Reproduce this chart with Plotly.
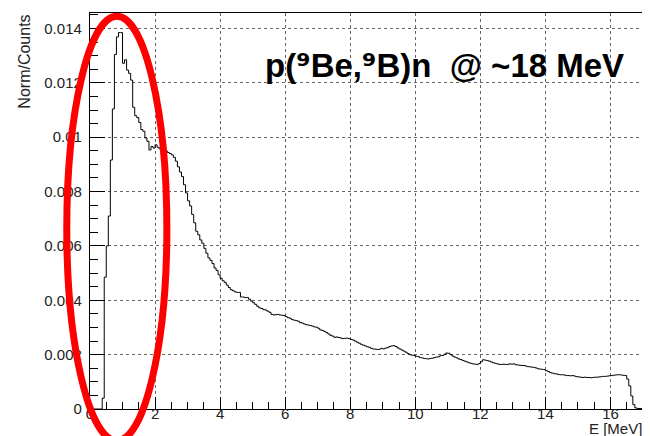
import numpy as np
import plotly.graph_objects as go

# Histogram: 0-17 MeV, bin width 1/16 MeV, values per 1 MeV segment
bin_width = 0.0625
e_min, e_max = 0.0, 17.0

counts_00_01 = [0, 0, 0, 0, 0, 0, 0.0004, 0.00485, 0.0060, 0.0071, 0.00916, 0.01104, 0.01304, 0.01369, 0.01385, 0.01385]
counts_01_02 = [0.01272, 0.01285, 0.01247, 0.01235, 0.0121, 0.0111, 0.01079, 0.01072, 0.01054, 0.01028, 0.01022, 0.00997, 0.00985, 0.00953, 0.00966, 0.0096]
counts_02_03 = [0.00972, 0.00963, 0.00957, 0.00953, 0.00953, 0.0095, 0.00944, 0.0094, 0.00935, 0.00926, 0.00912, 0.00891, 0.00872, 0.00855, 0.00825, 0.00795]
counts_03_04 = [0.00766, 0.00747, 0.00716, 0.00685, 0.00654, 0.00641, 0.00622, 0.0061, 0.00591, 0.00573, 0.00556, 0.00547, 0.00535, 0.00519, 0.0051, 0.00494]
counts_04_05 = [0.00481, 0.00472, 0.00466, 0.00456, 0.00447, 0.00439, 0.00435, 0.00431, 0.00429, 0.00429, 0.00412, 0.00412, 0.0041, 0.0041, 0.00404, 0.00397]
counts_05_06 = [0.00391, 0.00385, 0.00378, 0.00372, 0.0037, 0.00366, 0.00364, 0.0036, 0.00356, 0.00348, 0.00346, 0.00347, 0.00348, 0.00346, 0.00345, 0.00344]
counts_06_07 = [0.0034, 0.00336, 0.00334, 0.00329, 0.00327, 0.00325, 0.00323, 0.00318, 0.00316, 0.00313, 0.0031, 0.00309, 0.00307, 0.00305, 0.00302, 0.00301]
counts_07_08 = [0.00297, 0.00291, 0.00289, 0.00285, 0.00281, 0.00276, 0.00271, 0.00268, 0.00264, 0.00265, 0.00263, 0.00261, 0.00259, 0.0026, 0.00261, 0.00259]
counts_08_09 = [0.00256, 0.00254, 0.0025, 0.00246, 0.00242, 0.00238, 0.00235, 0.00232, 0.00229, 0.00227, 0.00223, 0.00221, 0.0022, 0.00219, 0.0022, 0.00223]
counts_09_10 = [0.00221, 0.00224, 0.00226, 0.0023, 0.00232, 0.00233, 0.0023, 0.00225, 0.00221, 0.00217, 0.00213, 0.00209, 0.00204, 0.002, 0.00198, 0.00197]
counts_10_11 = [0.00194, 0.00193, 0.00189, 0.00188, 0.00186, 0.00185, 0.00184, 0.00186, 0.00187, 0.00189, 0.00191, 0.00192, 0.00196, 0.00197, 0.00201, 0.00206]
counts_11_12 = [0.00205, 0.002, 0.00195, 0.00191, 0.00188, 0.00184, 0.00182, 0.00178, 0.00176, 0.00173, 0.0017, 0.00168, 0.00166, 0.00165, 0.00164, 0.00167]
counts_12_13 = [0.00174, 0.00181, 0.0018, 0.00178, 0.00176, 0.00173, 0.0017, 0.00168, 0.00166, 0.00164, 0.00164, 0.00165, 0.00164, 0.00164, 0.00166, 0.00165]
counts_13_14 = [0.00166, 0.00163, 0.00162, 0.00161, 0.0016, 0.0016, 0.00158, 0.00156, 0.00155, 0.00154, 0.00153, 0.00151, 0.00148, 0.00147, 0.00146, 0.00145]
counts_14_15 = [0.00141, 0.00138, 0.00134, 0.00132, 0.0013, 0.00129, 0.00127, 0.00126, 0.00126, 0.00125, 0.00123, 0.00123, 0.00122, 0.00123, 0.00121, 0.00119]
counts_15_16 = [0.00118, 0.00117, 0.00116, 0.00117, 0.00116, 0.00116, 0.00115, 0.00116, 0.00117, 0.00117, 0.00118, 0.00119, 0.0012, 0.0012, 0.00121, 0.00122]
counts_16_17 = [0.00123, 0.00124, 0.00125, 0.00126, 0.00126, 0.00125, 0.00124, 0.00123, 0.0011, 0.00085, 0.00048, 0.00016, 0.00004, 0.00002, 0.00002, 0.00002]

x_tick_vals = [0, 2, 4, 6, 8, 10, 12, 14, 16]
x_tick_text = ["0", "2", "4", "6", "8", "10", "12", "14", "16"]
y_tick_vals = [0, 0.002, 0.004, 0.006, 0.008, 0.010, 0.012, 0.014]
y_tick_text = ["0", "0.002", "0.004", "0.006", "0.008", "0.01", "0.012", "0.014"]

SUP9 = "<span style=\"font-family:DejaVu Sans\">\u2079</span>"
title_text = "<b>p(" + SUP9 + "Be," + SUP9 + "B)n  @ ~18 MeV</b>"
x_title = "E [MeV]"
y_title = "Norm/Counts"

counts = (counts_00_01 + counts_01_02 + counts_02_03 + counts_03_04 + counts_04_05 +
          counts_05_06 + counts_06_07 + counts_07_08 + counts_08_09 + counts_09_10 +
          counts_10_11 + counts_11_12 + counts_12_13 + counts_13_14 + counts_14_15 +
          counts_15_16 + counts_16_17)
n_bins = len(counts)
edges = e_min + bin_width * np.arange(n_bins + 1)
step_x = list(edges)
step_y = list(counts) + [counts[-1]]

FONT = "Liberation Sans, Arial, Helvetica, sans-serif"

fig = go.Figure()
fig.add_trace(go.Scatter(
    x=step_x, y=step_y, mode="lines", line=dict(color="black", width=1, shape="hv"),
    showlegend=False, hoverinfo="skip"))

axis_common = dict(
    showline=True, linecolor="black", linewidth=1, mirror=True,
    ticks="inside", tickcolor="black", tickwidth=1,
    showgrid=True, gridcolor="#666666", griddash="dot", gridwidth=1,
    zeroline=False, tickfont=dict(family=FONT, size=15, color="#222222"),
)

fig.update_xaxes(range=[0, 17], tickvals=x_tick_vals, ticktext=x_tick_text, ticklen=12,
                 ticklabelstandoff=-9,
                 minor=dict(ticks="inside", ticklen=7, dtick=0.5, tickcolor="black", showgrid=False),
                 **axis_common)
fig.update_yaxes(range=[0, 0.01457], tickvals=y_tick_vals,
                 ticktext=[t + "\u00a0" for t in y_tick_text], ticklen=15,
                 minor=dict(ticks="inside", ticklen=8, dtick=0.0005, tickcolor="black", showgrid=False),
                 **axis_common)

# page body has an 8px default margin: size the figure so the plot lands where the reference has it
fig.update_layout(
    width=642, height=428,
    margin=dict(l=82, r=7, t=5, b=27),
    paper_bgcolor="white", plot_bgcolor="white",
    font=dict(family=FONT, color="black"),
    annotations=[
        dict(text=title_text, xref="paper", yref="paper", x=0.313, y=0.868,
             xanchor="left", yanchor="middle", showarrow=False,
             font=dict(family=FONT, size=33, color="black")),
        dict(text=x_title, xref="paper", yref="paper", x=1.002, y=-0.022,
             xanchor="right", yanchor="top", showarrow=False,
             font=dict(family=FONT, size=15, color="#222222")),
        dict(text=y_title, xref="paper", yref="paper", x=-0.12, y=1.0,
             xanchor="center", yanchor="top", textangle=-90, showarrow=False,
             font=dict(family=FONT, size=16, color="#222222")),
    ],
    shapes=[
        dict(type="circle", xref="paper", yref="paper", x0=-0.042, x1=0.139,
             y0=-0.080, y1=0.9915, line=dict(color="#ff0000", width=7), layer="above"),
    ],
)

fig.write_html("out.html")
